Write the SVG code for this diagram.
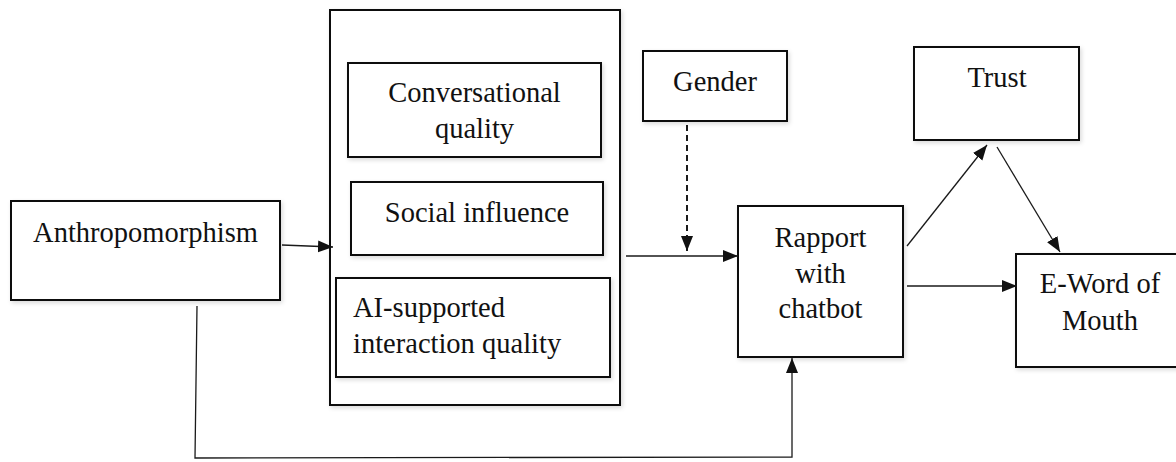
<svg xmlns="http://www.w3.org/2000/svg" width="1176" height="462" viewBox="0 0 1176 462">
  <style>
    .box { fill: #ffffff; stroke: #111111; stroke-width: 2; filter: url(#sh); }
    .lbl { font-family: "Liberation Serif", "Times New Roman", serif; font-size: 28.5px; fill: #111111; }
    .mid { text-anchor: middle; }
    .conn { fill: none; stroke: #1a1a1a; stroke-width: 1.3; }
    .dash { fill: none; stroke: #1a1a1a; stroke-width: 2; stroke-dasharray: 6 4; }
  </style>
  <defs>
    <filter id="sh" x="-10%" y="-10%" width="130%" height="130%">
      <feDropShadow dx="1.5" dy="2" stdDeviation="2" flood-color="#000000" flood-opacity="0.15"/>
    </filter>
    <marker id="arr" markerUnits="userSpaceOnUse" markerWidth="16" markerHeight="14" refX="15" refY="7" orient="auto">
      <path d="M0,1 L15,7 L0,13 z" fill="#111111"/>
    </marker>
  </defs>
  <rect width="1176" height="462" fill="#ffffff"/>

  <g id="anthropomorphism">
    <rect class="box" x="11" y="201" width="269" height="99"/>
    <text class="lbl mid" x="145.5" y="242">Anthropomorphism</text>
  </g>

  <g id="group-box">
    <rect class="box" x="330" y="10" width="290" height="395"/>
  </g>

  <g id="conversational-quality">
    <rect class="box" x="348" y="63" width="253" height="94"/>
    <text class="lbl mid" x="474.5" y="102">Conversational</text>
    <text class="lbl mid" x="474.5" y="138">quality</text>
  </g>

  <g id="social-influence">
    <rect class="box" x="351" y="182" width="252" height="73"/>
    <text class="lbl mid" x="477" y="222">Social influence</text>
  </g>

  <g id="ai-supported">
    <rect class="box" x="336" y="278" width="274" height="99"/>
    <text class="lbl" x="353" y="317">AI-supported</text>
    <text class="lbl" x="353" y="353">interaction quality</text>
  </g>

  <g id="gender">
    <rect class="box" x="643" y="51" width="144" height="70"/>
    <text class="lbl mid" x="715" y="91">Gender</text>
  </g>

  <g id="rapport">
    <rect class="box" x="738" y="206" width="165" height="151"/>
    <text class="lbl mid" x="820.5" y="247">Rapport</text>
    <text class="lbl mid" x="820.5" y="283">with</text>
    <text class="lbl mid" x="820.5" y="318">chatbot</text>
  </g>

  <g id="trust">
    <rect class="box" x="914" y="47" width="165" height="93"/>
    <text class="lbl mid" x="997" y="87">Trust</text>
  </g>

  <g id="ewom">
    <rect class="box" x="1016" y="254" width="165" height="113"/>
    <text class="lbl mid" x="1100" y="293">E-Word of</text>
    <text class="lbl mid" x="1100" y="330">Mouth</text>
  </g>

  <g id="connectors">
    <path class="conn" d="M282,245 L333,247" marker-end="url(#arr)"/>
    <path class="conn" d="M626,256 L738,256" marker-end="url(#arr)"/>
    <path class="dash" d="M687,125 L687,251" marker-end="url(#arr)"/>
    <path class="conn" d="M907,246 L987,145" marker-end="url(#arr)"/>
    <path class="conn" d="M997,147 L1060,252" marker-end="url(#arr)"/>
    <path class="conn" d="M907,286 L1017,286" marker-end="url(#arr)"/>
    <path class="conn" d="M197,306 L195,458 L792,457 L792,358" marker-end="url(#arr)"/>
  </g>
</svg>
